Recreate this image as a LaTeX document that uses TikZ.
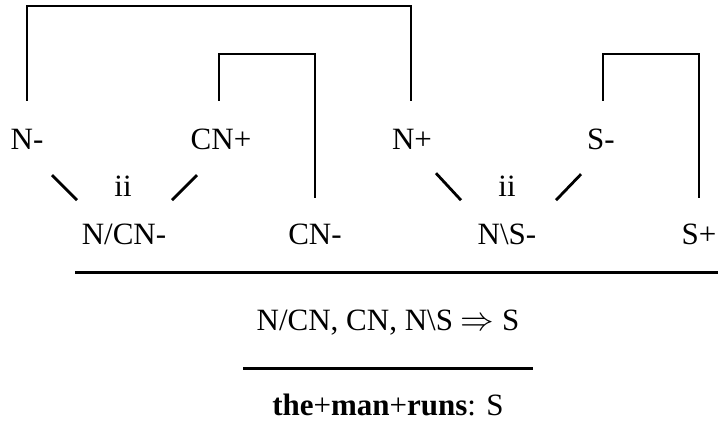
\documentclass[tikz,border=0pt]{standalone}
\usepackage{fontspec}
\usepackage{graphicx}
\setmainfont{Liberation Serif}
\begin{document}
\begin{tikzpicture}[x=1pt,y=1pt,
  lbl/.style={font=\fontsize{31}{37}\selectfont, inner sep=0pt, text height=21pt, text depth=0pt, anchor=base},
  br/.style={line width=2.4pt},
  tick/.style={line width=2.8pt},
  rulex/.style={line width=3pt}]
\useasboundingbox (0,0) rectangle (718,421);
% top row
\node[lbl] (Nm)  at (27,271)  {N-};
\node[lbl] (CNp) at (221,271) {CN+};
\node[lbl] (Np)  at (412,271) {N+};
\node[lbl] (Sm)  at (601,271) {S-};
% bottom row
\node[lbl] (NCN) at (124,176) {N/CN-};
\node[lbl] (CNm) at (315,176) {CN-};
\node[lbl] (NSm) at (507,176) {N\textbackslash S-};
\node[lbl] (Sp)  at (699,176) {S+};
% ii labels
\node[lbl] (ii1) at (123,224) {ii};
\node[lbl] (ii2) at (507,224) {ii};
% result texts
\node[lbl] (seq) at (388,91) {N/CN, CN, N\textbackslash S \scalebox{1.35}{$\Rightarrow$} S};
\node[lbl] (res) at (388,6) {\textbf{the}+\textbf{man}+\textbf{runs}: S};
% levels
\coordinate (top1) at (0,415);
\coordinate (top2) at (0,367);
\coordinate (r1a) at (75,149);
\coordinate (r1b) at (718,149);
\coordinate (r2a) at (243,53);
\coordinate (r2b) at (533,53);
% brackets
\draw[br] ([yshift=28pt]Nm.north) |- ([xshift=-1pt]top1 -| Np) -- ([xshift=-1pt,yshift=28pt]Np.north);
\draw[br] ([xshift=-2pt,yshift=28pt]CNp.north) |- (top2 -| CNm) -- ([yshift=26pt]CNm.north);
\draw[br] ([xshift=2pt,yshift=28pt]Sm.north) |- (top2 -| Sp) -- ([yshift=26pt]Sp.north);
% ticks
\draw[tick] ([shift={(25pt,-25pt)}]Nm.south) -- ++(25pt,-25pt);
\draw[tick] ([shift={(-24pt,-25pt)}]CNp.south) -- ++(-25pt,-25pt);
\draw[tick] ([shift={(24pt,-23pt)}]Np.south) -- ++(25pt,-27pt);
\draw[tick] ([shift={(-20pt,-24pt)}]Sm.south) -- ++(-25pt,-26pt);
% rules
\draw[rulex] (r1a) -- (r1b);
\draw[rulex] (r2a) -- (r2b);
\end{tikzpicture}
\end{document}
